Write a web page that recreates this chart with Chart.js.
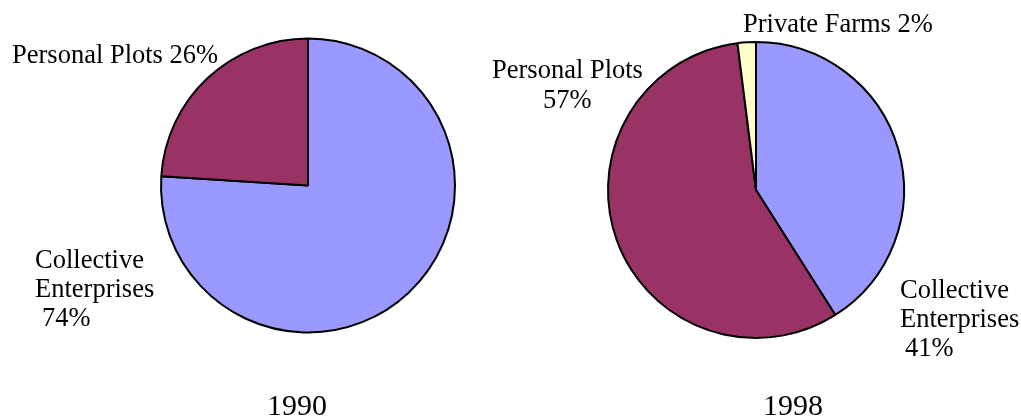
<!DOCTYPE html>
<html lang="en">
<head>
    <meta charset="UTF-8">
    <title>Farm Output 1990 vs 1998</title>
    <script src="https://cdn.jsdelivr.net/npm/chart.js"></script>
    <style>
        body { margin: 0; background: #fff; }
        #wrap { position: relative; width: 1021px; height: 417px; }
        canvas { position: absolute; left: 0; top: 0; }
    </style>
</head>
<body>
    <div id="wrap">
        <canvas id="pie1990" width="1021" height="417"></canvas>
        <canvas id="pie1998" width="1021" height="417"></canvas>
    </div>
    <script>
        // data (slice sizes as drawn, labels as printed)
        const categories1990 = ['Collective Enterprises', 'Personal Plots'];
        const values1990 = [76, 24];
        const categories1998 = ['Collective Enterprises', 'Personal Plots', 'Private Farms'];
        const values1998 = [41, 57, 2];
        const years = ['1990', '1998'];

        const colours = {
            'Collective Enterprises': '#9999FF',
            'Personal Plots': '#993366',
            'Private Farms': '#FFFFCC'
        };

        // label lines and where they sit (left x, baseline y)
        const labels1990 = [
            { lines: ['Personal Plots 26%'], x: [12], y: 63 },
            { lines: ['Collective', 'Enterprises', '74%'], x: [35, 35, 42], y: 268 },
            { lines: [years[0]], x: [267], y: 415, size: 30 }
        ];
        const labels1998 = [
            { lines: ['Private Farms 2%'], x: [743], y: 32 },
            { lines: ['Personal Plots', '57%'], x: [492, 543], y: 78, gap: 30 },
            { lines: ['Collective', 'Enterprises', '41%'], x: [900, 900, 905], y: 298 },
            { lines: [years[1]], x: [763], y: 415, size: 30 }
        ];

        const textPlugin = {
            id: 'pieText',
            afterDraw(chart, args, opts) {
                const ctx = chart.ctx;
                ctx.save();
                ctx.fillStyle = '#000';
                ctx.textBaseline = 'alphabetic';
                ctx.textAlign = 'left';
                opts.items.forEach(function(item) {
                    ctx.font = (item.size || 26.5) + 'px "Liberation Serif", "Times New Roman", serif';
                    item.lines.forEach(function(line, i) {
                        ctx.fillText(line, item.x[i], item.y + i * (item.gap || 29));
                    });
                });
                ctx.restore();
            }
        };

        function makePie(id, cats, vals, padding, items) {
            return new Chart(document.getElementById(id), {
                type: 'pie',
                data: {
                    labels: cats,
                    datasets: [{
                        data: vals,
                        backgroundColor: cats.map(c => colours[c]),
                        borderColor: '#000',
                        borderWidth: 2
                    }]
                },
                options: {
                    responsive: false,
                    animation: false,
                    layout: { padding: padding },
                    plugins: {
                        legend: { display: false },
                        tooltip: { enabled: false },
                        pieText: { items: items }
                    }
                },
                plugins: [textPlugin]
            });
        }

        makePie('pie1990', categories1990, values1990,
            { left: 160, right: 565, top: 37.5, bottom: 83.5 }, labels1990);
        makePie('pie1998', categories1998, values1998,
            { left: 607, right: 116, top: 41, bottom: 78 }, labels1998);
    </script>
</body>
</html>
